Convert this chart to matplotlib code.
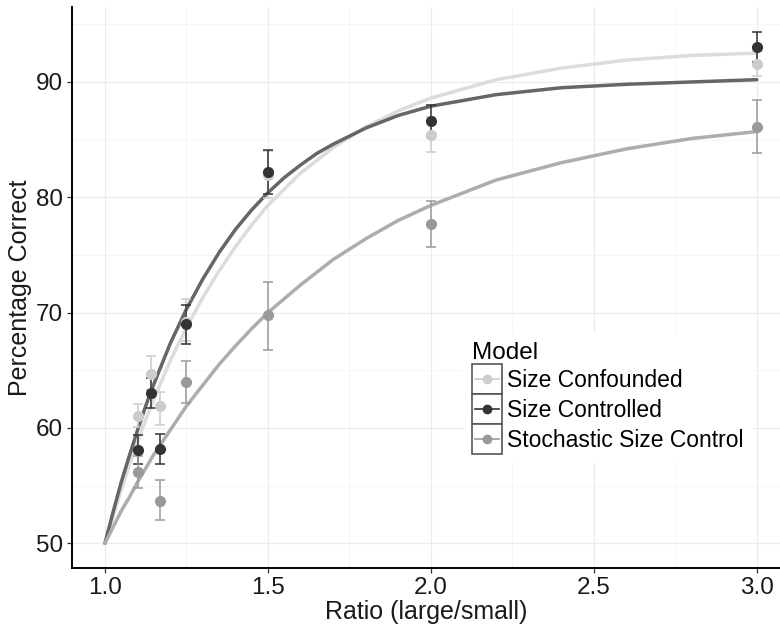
import matplotlib
matplotlib.use("Agg")
import matplotlib.pyplot as plt
from matplotlib.lines import Line2D
from matplotlib.patches import Rectangle
from matplotlib.legend_handler import HandlerBase

plt.rcParams['font.family'] = ['Liberation Sans', 'DejaVu Sans']

# --- data --------------------------------------------------------------
models = ['Size Confounded', 'Size Controlled', 'Stochastic Size Control']

conf_x = [1.1, 1.14, 1.17, 1.25, 1.5, 2.0, 3.0]
conf_y = [61.0, 64.7, 61.9, 69.2, 81.9, 85.4, 91.6]
conf_lo = [60.1, 63.3, 60.3, 67.5, 79.9, 83.9, 90.5]
conf_hi = [62.1, 66.2, 63.1, 71.2, 84.0, 87.0, 92.7]

ctrl_x = [1.1, 1.14, 1.17, 1.25, 1.5, 2.0, 3.0]
ctrl_y = [58.1, 63.0, 58.2, 69.0, 82.2, 86.6, 93.0]
ctrl_lo = [56.9, 61.7, 56.9, 67.3, 80.3, 85.2, 91.7]
ctrl_hi = [59.4, 64.3, 59.5, 70.7, 84.1, 88.0, 94.3]

stoch_x = [1.1, 1.17, 1.25, 1.5, 2.0, 3.0]
stoch_y = [56.2, 53.7, 64.0, 69.8, 77.7, 86.1]
stoch_lo = [54.8, 52.0, 62.2, 66.8, 75.7, 83.8]
stoch_hi = [57.6, 55.5, 65.8, 72.7, 79.7, 88.4]

# fitted curves
curve_x = [1.0, 1.025, 1.05, 1.075, 1.1, 1.125, 1.15, 1.2, 1.25, 1.3, 1.35,
           1.4, 1.45, 1.5, 1.55, 1.6, 1.65, 1.7, 1.8, 1.9, 2.0, 2.2, 2.4,
           2.6, 2.8, 3.0]
conf_curve = [50.0, 52.4, 54.6, 56.8, 58.8, 60.7, 62.5, 65.8, 68.7, 71.3,
              73.6, 75.7, 77.6, 79.3, 80.7, 82.1, 83.2, 84.3, 86.1, 87.5,
              88.6, 90.2, 91.2, 91.9, 92.3, 92.5]
ctrl_curve = [50.0, 52.7, 55.3, 57.6, 59.8, 61.9, 63.8, 67.3, 70.3, 72.9,
              75.2, 77.2, 78.9, 80.4, 81.7, 82.8, 83.8, 84.6, 86.0, 87.1,
              87.9, 88.9, 89.5, 89.8, 90.0, 90.2]
stoch_curve = [50.0, 51.4, 52.8, 54.0, 55.3, 56.5, 57.7, 59.8, 61.9, 63.7,
               65.5, 67.1, 68.6, 70.0, 71.2, 72.4, 73.5, 74.6, 76.4, 78.0,
               79.3, 81.5, 83.0, 84.2, 85.1, 85.7]

point_colors = ['#cccccc', '#333333', '#999999']
line_colors = ['#dcdcdc', '#666666', '#adadad']


class BoxedKey(HandlerBase):
    def create_artists(self, legend, orig_handle, xdescent, ydescent,
                       width, height, fontsize, trans):
        box = Rectangle((-xdescent, -ydescent), width, height,
                        facecolor='white', edgecolor='#555555', lw=1.2,
                        transform=trans)
        yc = -ydescent + height / 2
        ln = Line2D([-xdescent + 0.1 * width, -xdescent + 0.9 * width], [yc, yc],
                    color=orig_handle.get_color(), lw=1.2, transform=trans)
        pt = Line2D([-xdescent + width / 2], [yc], marker='o', ms=6,
                    color=orig_handle.get_color(), ls='none', transform=trans)
        return [box, ln, pt]


fig = plt.figure(figsize=(7.8, 6.3), dpi=100)
ax = fig.add_axes([72 / 780, 1 - 568 / 630, 1 - 72 / 780, (568 - 7) / 630])

ax.set_xlim(0.899, 3.071)
ax.set_ylim(47.86, 96.5)

ax.set_xticks([1.0, 1.5, 2.0, 2.5, 3.0])
ax.set_xticklabels(['1.0', '1.5', '2.0', '2.5', '3.0'])
ax.set_xticks([1.25, 1.75, 2.25, 2.75], minor=True)
ax.set_yticks([50, 60, 70, 80, 90])
ax.set_yticks([55, 65, 75, 85, 95], minor=True)

ax.grid(which='major', color='#ebebeb', lw=0.8, zorder=0)
ax.grid(which='minor', color='#f2f2f2', lw=0.45, zorder=0)
ax.set_axisbelow(True)

for side in ['top', 'right']:
    ax.spines[side].set_visible(False)
for side in ['left', 'bottom']:
    ax.spines[side].set_linewidth(1.4)
    ax.spines[side].set_color('black')

ax.tick_params(which='major', direction='out', length=3.3, width=0.9,
               color='#333333', labelsize=17.5, labelcolor='#1a1a1a', pad=3)
ax.tick_params(which='minor', length=0)

curves = [conf_curve, ctrl_curve, stoch_curve]
for cy, lc in zip(curves, line_colors):
    ax.plot(curve_x, cy, color=lc, lw=2.5, solid_capstyle='round',
            solid_joinstyle='round', zorder=2)

sets = [(conf_x, conf_y, conf_lo, conf_hi),
        (ctrl_x, ctrl_y, ctrl_lo, ctrl_hi),
        (stoch_x, stoch_y, stoch_lo, stoch_hi)]
handles = []
for (xs, ys, lo, hi), pc, name in zip(sets, point_colors, models):
    err = [[y - l for y, l in zip(ys, lo)], [h - y for y, h in zip(ys, hi)]]
    ax.errorbar(xs, ys, yerr=err, fmt='none', ecolor=pc, elinewidth=1.1,
                capsize=3.4, capthick=1.1, zorder=3)
    ax.plot(xs, ys, 'o', color=pc, ms=7, zorder=4)
    handles.append(Line2D([], [], color=pc, label=name))

ax.set_xlabel('Ratio (large/small)', fontsize=18, color='#1a1a1a', labelpad=1)
ax.set_ylabel('Percentage Correct', fontsize=18, color='#1a1a1a', labelpad=3)

leg = fig.legend(handles=handles, title='Model', loc='upper left',
                 bbox_to_anchor=(463 / 780, 1 - 333 / 630),
                 handler_map={Line2D: BoxedKey()},
                 fontsize=16.5, title_fontsize=17.5, alignment='left',
                 handlelength=1.31, handleheight=1.64, handletextpad=0.22,
                 labelspacing=0, borderpad=0.4, borderaxespad=0,
                 frameon=True, fancybox=False,
                 framealpha=1, facecolor='white', edgecolor='none')

fig.savefig('out.png', dpi=100)
